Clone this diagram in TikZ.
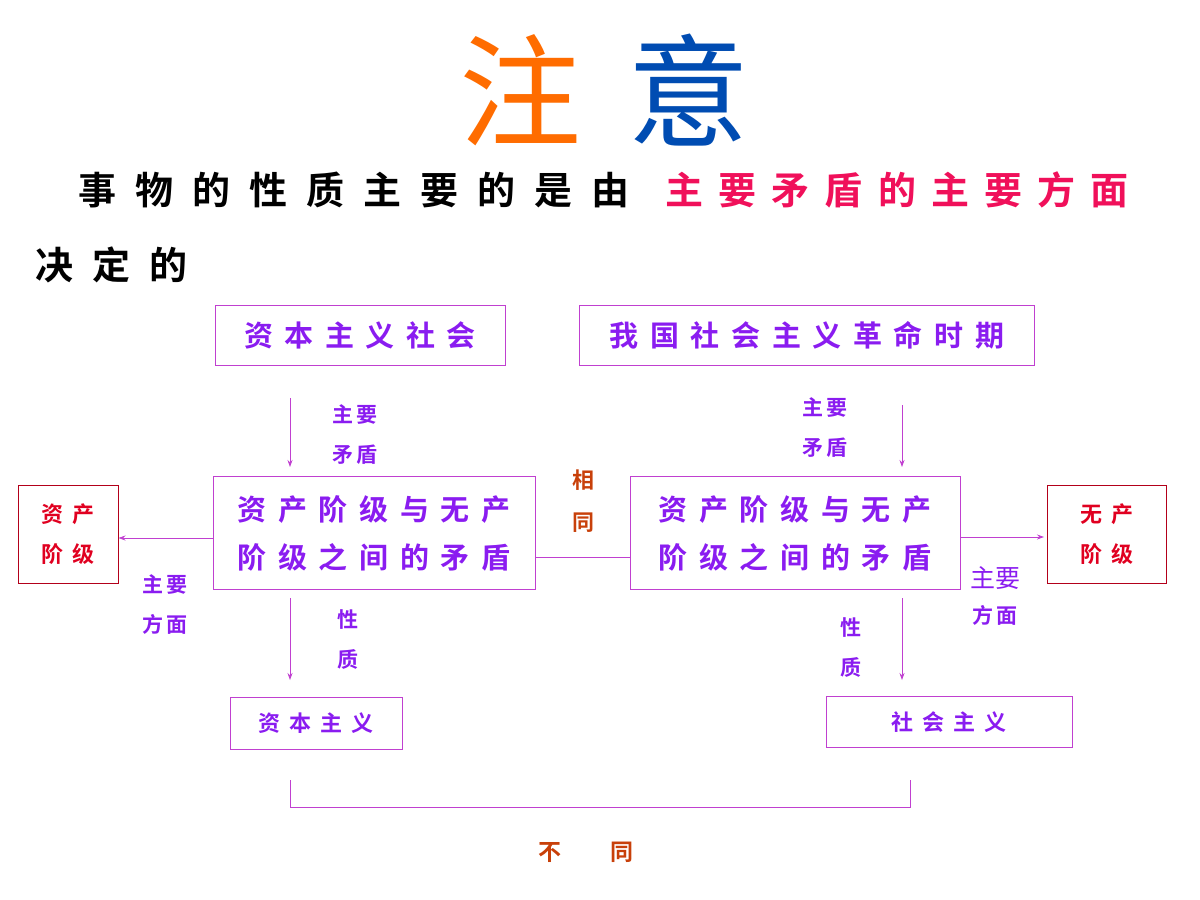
\documentclass[tikz,border=0pt]{standalone}
\usepackage{fontspec}
\newfontfamily\cjk[LetterSpace=40]{Noto Sans CJK SC Bold}
\newfontfamily\cjkw[LetterSpace=50]{Noto Sans CJK SC Bold}
\newfontfamily\cjkn[LetterSpace=15]{Noto Sans CJK SC Bold}
\newfontfamily\cjkl{Noto Sans CJK SC}
\usetikzlibrary{arrows.meta}
\definecolor{vio}{HTML}{8A1CF0}
\definecolor{bx}{HTML}{C040D0}
\definecolor{rd}{HTML}{E00020}
\definecolor{pk}{HTML}{F0105A}
\definecolor{br}{HTML}{C8400A}
\begin{document}
\begin{tikzpicture}[x=1pt,y=-1pt,
  box/.style={draw=bx,line width=1pt,minimum width=#1,inner sep=0pt},
  rbox/.style={draw=rd!80!black,line width=1pt,inner sep=0pt,minimum width=100,minimum height=98,text=rd,font=\cjk\fontsize{22}{40}\selectfont,align=center},
  lab/.style={text=vio,font=\cjkn\fontsize{21}{40}\selectfont,align=center,inner sep=0pt},
  con/.style={draw=bx,line width=0.8pt},
  arr/.style={con,-{Stealth[length=7pt,width=5pt]}}]
\useasboundingbox (0,0) rectangle (1200,900);
% title
\node[text=orange!85!red,font=\cjkl\fontsize{122}{122}\selectfont] (t1) at (520,90) {注};
\node[text=blue!70!green,font=\cjkl\fontsize{122}{122}\selectfont] (t2) at (688,90) {意};
% statement
\node[anchor=west,font=\cjkw\fontsize{38}{38}\selectfont,inner sep=0pt] (s1) at (78,190) {事物的性质主要的是由};
\node[anchor=west,font=\cjk\fontsize{38}{38}\selectfont,text=pk,inner sep=0pt] (s2) at (665,190) {主要矛盾的主要方面};
\node[anchor=west,font=\cjkw\fontsize{38}{38}\selectfont,inner sep=0pt] (s3) at (35,265) {决定的};
% boxes
\node[box=290,minimum height=60,text=vio,font=\cjk\fontsize{29}{29}\selectfont] (A) at (360,335) {资本主义社会};
\node[box=455,minimum height=60,text=vio,font=\cjk\fontsize{29}{29}\selectfont] (B) at (807,335) {我国社会主义革命时期};
\node[box=322,minimum height=113,text=vio,font=\cjk\fontsize{29}{48}\selectfont,align=center] (C) at (374,533) {资产阶级与无产\\阶级之间的矛盾};
\node[box=330,minimum height=113,text=vio,font=\cjk\fontsize{29}{48}\selectfont,align=center] (D) at (795,533) {资产阶级与无产\\阶级之间的矛盾};
\node[rbox] (E) at (68,534) {资产\\阶级};
\node[rbox,minimum width=119] (F) at (1107,534) {无产\\阶级};
\node[box=172,minimum height=52,text=vio,font=\cjk\fontsize{22}{22}\selectfont] (G) at (316,723) {资本主义};
\node[box=246,minimum height=51,text=vio,font=\cjk\fontsize{22}{22}\selectfont] (H) at (949,722) {社会主义};
% connectors
\coordinate (a1) at (290,398); \coordinate (a2) at (902,405);
\coordinate (a3) at (290,598); \coordinate (a4) at (902,598);
\draw[arr] (a1) -- (290,467);
\draw[arr] (a2) -- (902,467);
\draw[arr] (C.west |- 0,538) -- (E.east |- 0,538);
\draw[arr] (D.east |- 0,537) -- ([xshift=-3pt]F.west |- 0,537);
\draw[con] (C.east |- 0,557) -- (D.west |- 0,557);
\draw[arr] (a3) -- (290,680);
\draw[arr] (a4) -- (902,680);
\draw[con] (290,780) -- (290,807) -- (910,807) -- (910,780);
% labels
\node[lab] (l1) at (355,435) {主要\\矛盾};
\node[lab] (l2) at (825,428) {主要\\矛盾};
\node[lab] (l3) at (165,605) {主要\\方面};
\node[lab,font=\cjkl\fontsize{25}{40}\selectfont] (l4) at (995,596) {主要\\[-4pt]{\cjkn\fontsize{21}{21}\selectfont 方面}};
\node[lab] (l5) at (348,640) {性\\质};
\node[lab] (l6) at (851,648) {性\\质};
\node[lab,text=br,font=\cjkn\fontsize{22}{42}\selectfont] (l7) at (583,501) {相\\同};
\node[lab,text=br,font=\cjkn\fontsize{23}{23}\selectfont] (l8) at (586,852) {不\hspace{50pt}同};
\end{tikzpicture}
\end{document}
